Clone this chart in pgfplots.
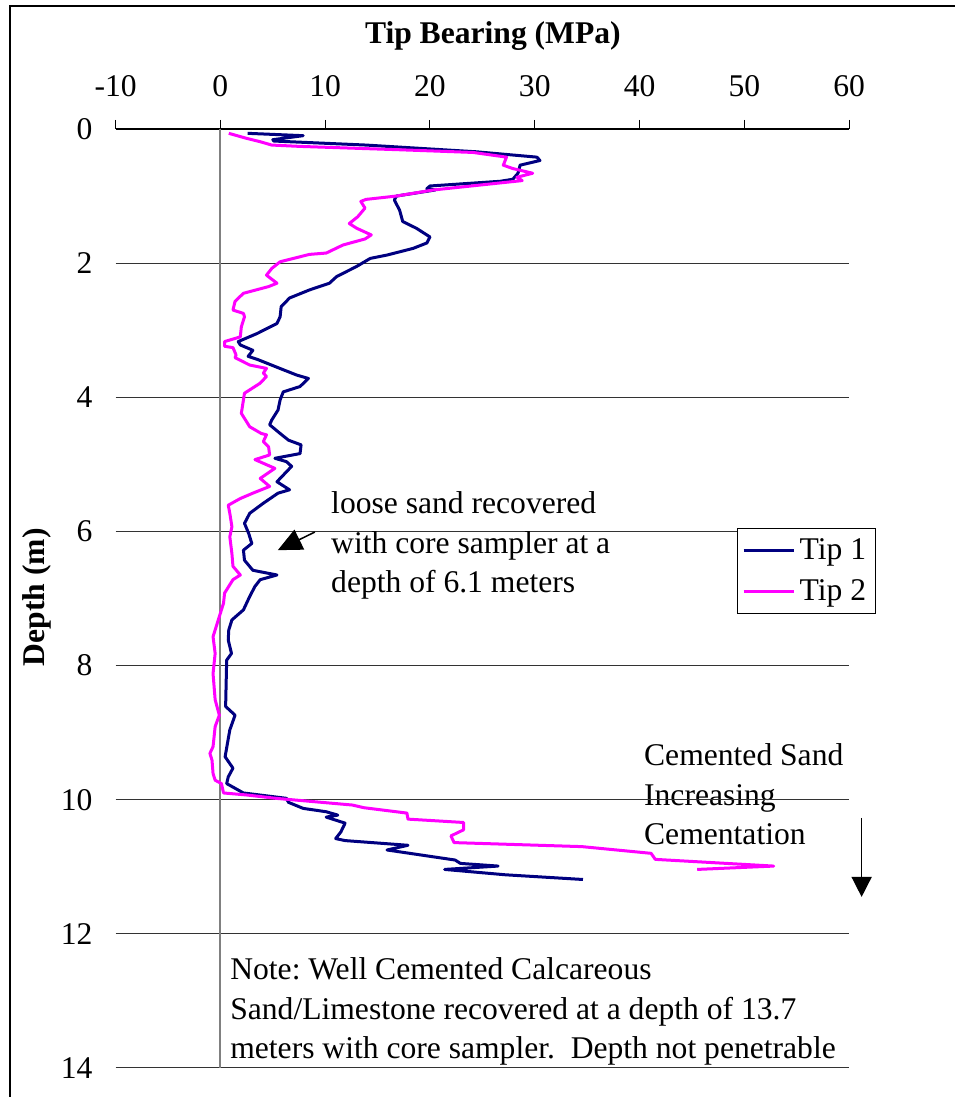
\documentclass[border=0pt]{standalone}
\usepackage{fontspec}
\setmainfont{Liberation Serif}
\usepackage{pgfplots}
\pgfplotsset{compat=1.18}
\usetikzlibrary{arrows.meta}
\definecolor{tipone}{RGB}{0,0,128}
\definecolor{tiptwo}{RGB}{255,0,255}
\newcommand{\chartfont}{\fontsize{15.8}{19.7}\selectfont}

\begin{document}
\frenchspacing
\begin{tikzpicture}
\begin{axis}[
  set layers,
  scale only axis, width=366.8pt, height=469.5pt,
  xmin=-10, xmax=60, ymin=0, ymax=14, y dir=reverse,
  axis x line*=top, axis y line*=left,
  x axis line style={-, black, line width=0.8pt},
  y axis line style={draw=none},
  xtick={-10,0,10,20,30,40,50,60},
  ytick={0,2,4,6,8,10,12,14},
  tick align=outside, major tick length=4.5pt,
  xtick style={black, line width=0.5pt},
  ytick style={draw=none},
  ymajorgrids, major grid style={black!80, line width=0.5pt},
  /pgf/number format/assume math mode=true,
  ticklabel style={font=\chartfont},
  xticklabel style={yshift=8pt},
  yticklabel style={xshift=-3.5pt},
  clip=false,
  legend cell align=left,
  legend image code/.code={\draw[#1, line width=1.5pt] (0pt,0pt) -- (25pt,0pt);},
  legend style={at={(axis description cs:0.8465,0.575)}, anchor=north west,
    draw=black, line width=0.5pt, fill=white, font=\chartfont,
    inner xsep=2.5pt, inner ysep=4pt, row sep=6.5pt,
    nodes={inner xsep=2.3pt, inner ysep=1pt}},
]
% frame round the chart
\draw[black, line width=1pt] (axis cs:-20.08,14.6) -- (axis cs:-20.08,-1.834) -- (axis cs:70.3,-1.834);
% y axis crossing at zero
\draw[gray, line width=1pt] (axis cs:0,0) -- (axis cs:0,14);

\addplot[tipone, line width=1.5pt, line join=round] coordinates {
(2.6,0.065) (7.9,0.10) (5.0,0.16) (5.1,0.18) (13.9,0.24) (24.4,0.34) (30.2,0.42)
(30.5,0.47) (28.6,0.54) (28.4,0.66) (27.9,0.75) (26.7,0.78) (20.0,0.85) (19.7,0.89)
(20.5,0.91) (16.8,1.00) (16.6,1.06) (17.1,1.21) (17.4,1.38) (18.7,1.48) (20.0,1.61)
(19.7,1.70) (18.4,1.78) (15.9,1.88) (14.3,1.93) (13.0,2.05) (11.1,2.20) (10.4,2.30)
(8.5,2.40) (6.6,2.52) (5.8,2.65) (5.7,2.80) (5.4,2.90) (3.5,3.05) (1.7,3.17)
(1.9,3.22) (3.1,3.30) (2.65,3.39) (3.6,3.44) (6.0,3.59) (7.3,3.67) (8.4,3.72)
(7.6,3.84) (6.0,3.92) (5.7,4.04) (5.5,4.19) (4.9,4.34) (4.7,4.41) (5.7,4.54)
(6.5,4.64) (7.7,4.71) (7.6,4.84) (5.2,4.91) (6.3,4.96) (6.8,5.03) (5.4,5.26)
(6.6,5.38) (5.5,5.43) (4.1,5.58) (2.8,5.73) (2.3,5.88) (2.7,6.03) (3.0,6.18)
(2.2,6.28) (2.3,6.43) (3.1,6.58) (5.4,6.65) (3.8,6.72) (3.3,6.82) (2.8,6.97)
(2.2,7.17) (1.1,7.32) (0.8,7.47) (0.75,7.62) (1.06,7.82) (0.6,7.92) (0.5,8.61)
(1.4,8.74) (0.9,8.96) (0.45,9.36) (1.2,9.53) (0.75,9.66) (0.6,9.76) (2.2,9.90)
(6.3,9.98) (6.5,10.04) (7.9,10.13) (10.1,10.18) (11.2,10.23) (10.1,10.26) (11.9,10.35)
(11.5,10.48) (11.0,10.58) (11.9,10.61) (17.9,10.68) (15.9,10.75) (22.4,10.90)
(22.9,10.95) (26.5,10.99) (21.4,11.04) (27.2,11.12) (34.6,11.19)
};
\addlegendentry{Tip 1}

\addplot[tiptwo, line width=1.5pt, line join=round] coordinates {
(0.8,0.065) (2.5,0.14) (3.8,0.19) (4.9,0.24) (7.6,0.26) (17.1,0.31) (24.1,0.35)
(27.3,0.42) (27.0,0.54) (27.9,0.59) (29.8,0.66) (28.3,0.72) (28.8,0.77) (20.3,0.91)
(16.8,1.00) (13.9,1.05) (13.4,1.08) (13.8,1.18) (13.1,1.31) (12.3,1.41) (13.0,1.48)
(14.4,1.58) (13.8,1.64) (11.7,1.73) (10.1,1.85) (8.5,1.87) (5.7,1.98) (4.9,2.08)
(4.4,2.18) (5.4,2.30) (4.6,2.35) (2.2,2.45) (1.4,2.57) (1.2,2.70) (2.2,2.75)
(2.3,2.80) (2.0,2.95) (1.9,3.10) (0.4,3.17) (0.4,3.24) (1.2,3.26) (1.5,3.37)
(1.4,3.41) (2.8,3.52) (4.4,3.57) (4.1,3.64) (4.4,3.69) (3.8,3.79) (2.3,3.94)
(2.2,4.04) (2.0,4.24) (2.8,4.44) (3.9,4.54) (4.4,4.56) (4.1,4.66) (4.6,4.74)
(4.7,4.86) (3.3,4.93) (5.2,5.06) (3.8,5.21) (4.7,5.33) (3.1,5.43) (1.9,5.51)
(0.75,5.61) (0.9,5.73) (1.1,5.93) (0.9,6.08) (1.1,6.33) (1.2,6.52) (1.9,6.65)
(1.2,6.72) (0.4,6.92) (0.3,7.07) (-0.2,7.32) (-0.7,7.57) (-0.5,7.82) (-0.7,8.12)
(-0.5,8.51) (-0.1,8.74) (-0.5,8.91) (-0.7,9.21) (-1.0,9.31) (-0.8,9.41) (-0.7,9.61)
(-0.5,9.71) (0.1,9.76) (0.3,9.90) (2.5,9.93) (5.3,9.98) (12.6,10.08) (13.7,10.12)
(17.8,10.20) (17.9,10.29) (23.2,10.34) (23.2,10.45) (22.0,10.54) (22.3,10.64)
(34.5,10.70) (41.1,10.80) (41.5,10.89) (52.8,10.99) (45.5,11.04)
};
\addlegendentry{Tip 2}

% titles
\node[font=\chartfont\bfseries, anchor=base] at (axis cs:26.0,-1.267) {Tip Bearing (MPa)};
\node[font=\chartfont\bfseries, rotate=90, anchor=center] at (axis cs:-17.5,6.98) {Depth (m)};

% notes
\node[font=\chartfont, align=left, anchor=north west, inner sep=0pt] at (axis cs:10.54,5.403)
  {loose sand recovered\\with core sampler at a\\depth of 6.1 meters};
\draw[line width=0.75pt, -{Triangle[length=12pt,width=11pt]}] (axis cs:9.01,6.01) -- (axis cs:5.48,6.28);
\begin{pgfonlayer}{axis background}
\node[font=\chartfont, align=left, anchor=north west, inner sep=0pt] at (axis cs:40.4,9.16)
  {Cemented Sand\\Increasing\\Cementation};
\end{pgfonlayer}
\draw[line width=0.75pt, -{Triangle[length=10pt,width=10pt]}] (axis cs:61.19,10.27) -- (axis cs:61.19,11.45);
\node[font=\chartfont, align=left, anchor=north west, inner sep=0pt] at (axis cs:0.91,12.35)
  {Note: Well Cemented Calcareous\\Sand/Limestone recovered at a depth of 13.7\\meters with core sampler.\ \ Depth not penetrable};

\coordinate (bbSW) at (axis cs:-21.03,14.433);
\coordinate (bbNE) at (axis cs:70.06,-1.923);
\end{axis}
\pgfresetboundingbox
\path[use as bounding box] (bbSW) rectangle (bbNE);
\end{tikzpicture}
\end{document}
